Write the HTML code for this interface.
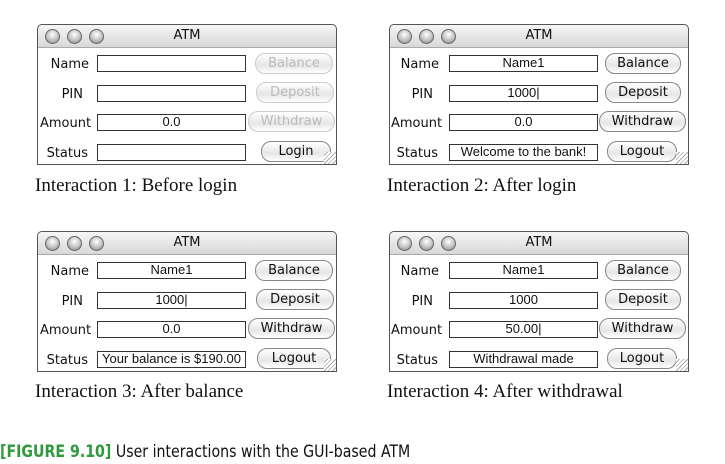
<!DOCTYPE html>
<html><head><style>
body{margin:0;width:725px;height:464px;background:#fff;position:relative;overflow:hidden;font-family:"DejaVu Sans","Liberation Sans",sans-serif}
.w{position:absolute;width:298px;height:139px;border:1px solid #555;background:#fff;border-radius:5px 5px 0 0}
.tb{position:absolute;left:0;top:0;width:298px;height:22px;background:linear-gradient(#f6f6f6,#d8d8d8);border-bottom:1px solid #aaa;border-radius:5px 5px 0 0}
.tb span{position:absolute;left:0;width:298px;text-align:center;top:3px;font-size:13px;color:#111}
.c{position:absolute;top:4px;width:13px;height:13px;border-radius:50%;border:1px solid #666;background:radial-gradient(circle at 50% 35%,#fff,#bbb 60%,#777)}
.l{position:absolute;font-size:13px;color:#111;text-align:right;margin-top:2px}
.f{position:absolute;left:59px;width:147px;height:15px;border:1px solid #333;font-family:"Liberation Sans",sans-serif;font-size:13px;text-align:center;line-height:14px;color:#111;white-space:nowrap;overflow:hidden}
.b{position:absolute;height:19px;border:1px solid #888;border-radius:10px;background:linear-gradient(#fff,#e6e6e6 60%,#fff);font-size:13px;text-align:center;line-height:19px;color:#111}
.dis{color:#bbb;border-color:#ccc}
.g{position:absolute;right:0;bottom:0;width:12px;height:12px;background:repeating-linear-gradient(135deg,#fff 0 2px,#aaa 2px 3px)}
.cap{position:absolute;font-family:"Liberation Serif",serif;font-size:19px;color:#111}
</style></head><body>

<div class="w" style="left:37px;top:24px">
<div class="tb"><div class="c" style="left:7px"></div><div class="c" style="left:29px"></div><div class="c" style="left:51px"></div><span>ATM</span></div>
<div class="l" style="left:0;width:51px;top:30px">Name</div>
<div class="l" style="left:0;width:45px;top:60px">PIN</div>
<div class="l" style="left:2px;top:89px">Amount</div>
<div class="l" style="left:0;width:50px;top:119px">Status</div>
<div class="f" style="top:30px"></div>
<div class="f" style="top:60px"></div>
<div class="f" style="top:89px">0.0</div>
<div class="f" style="top:119px"></div>
<div class="b dis" style="left:217px;width:76px;top:28px">Balance</div>
<div class="b dis" style="left:218px;width:76px;top:57px">Deposit</div>
<div class="b dis" style="left:210px;width:85px;top:86px">Withdraw</div>
<div class="b" style="left:223px;width:68px;top:116px">Login</div>
<div class="g"></div>
</div>

<div class="w" style="left:389px;top:24px">
<div class="tb"><div class="c" style="left:7px"></div><div class="c" style="left:29px"></div><div class="c" style="left:51px"></div><span>ATM</span></div>
<div class="l" style="left:0;width:49px;top:30px">Name</div>
<div class="l" style="left:0;width:43px;top:60px">PIN</div>
<div class="l" style="left:1px;top:89px">Amount</div>
<div class="l" style="left:0;width:48px;top:119px">Status</div>
<div class="f" style="top:30px">Name1</div>
<div class="f" style="top:60px">1000|</div>
<div class="f" style="top:89px">0.0</div>
<div class="f" style="top:119px">Welcome to the bank!</div>
<div class="b" style="left:215px;width:74px;top:28px">Balance</div>
<div class="b" style="left:215px;width:74px;top:57px">Deposit</div>
<div class="b" style="left:209px;width:85px;top:86px">Withdraw</div>
<div class="b" style="left:217px;width:68px;top:116px">Logout</div>
<div class="g"></div>
</div>

<div class="cap" style="left:35px;top:175px">Interaction 1: Before login</div>
<div class="cap" style="left:387px;top:175px">Interaction 2: After login</div>

<div class="w" style="left:37px;top:231px">
<div class="tb"><div class="c" style="left:7px"></div><div class="c" style="left:29px"></div><div class="c" style="left:51px"></div><span>ATM</span></div>
<div class="l" style="left:0;width:51px;top:30px">Name</div>
<div class="l" style="left:0;width:45px;top:60px">PIN</div>
<div class="l" style="left:2px;top:89px">Amount</div>
<div class="l" style="left:0;width:50px;top:119px">Status</div>
<div class="f" style="top:30px">Name1</div>
<div class="f" style="top:60px">1000|</div>
<div class="f" style="top:89px">0.0</div>
<div class="f" style="top:119px">Your balance is $190.00</div>
<div class="b" style="left:217px;width:76px;top:28px">Balance</div>
<div class="b" style="left:218px;width:76px;top:57px">Deposit</div>
<div class="b" style="left:210px;width:85px;top:86px">Withdraw</div>
<div class="b" style="left:219px;width:72px;top:116px">Logout</div>
<div class="g"></div>
</div>

<div class="w" style="left:389px;top:231px">
<div class="tb"><div class="c" style="left:7px"></div><div class="c" style="left:29px"></div><div class="c" style="left:51px"></div><span>ATM</span></div>
<div class="l" style="left:0;width:49px;top:30px">Name</div>
<div class="l" style="left:0;width:43px;top:60px">PIN</div>
<div class="l" style="left:1px;top:89px">Amount</div>
<div class="l" style="left:0;width:48px;top:119px">Status</div>
<div class="f" style="top:30px">Name1</div>
<div class="f" style="top:60px">1000</div>
<div class="f" style="top:89px">50.00|</div>
<div class="f" style="top:119px">Withdrawal made</div>
<div class="b" style="left:215px;width:74px;top:28px">Balance</div>
<div class="b" style="left:215px;width:74px;top:57px">Deposit</div>
<div class="b" style="left:209px;width:85px;top:86px">Withdraw</div>
<div class="b" style="left:217px;width:68px;top:116px">Logout</div>
<div class="g"></div>
</div>

<div class="cap" style="left:35px;top:381px">Interaction 3: After balance</div>
<div class="cap" style="left:387px;top:381px">Interaction 4: After withdrawal</div>

<div style="position:absolute;left:0;top:442px;font-family:'DejaVu Sans Condensed','DejaVu Sans',sans-serif;font-size:17px;color:#111;white-space:nowrap;transform:scaleX(0.925);transform-origin:0 0"><span style="color:#2e9a3c;font-weight:bold">[FIGURE 9.10]</span> User interactions with the GUI-based ATM</div>
</body></html>
